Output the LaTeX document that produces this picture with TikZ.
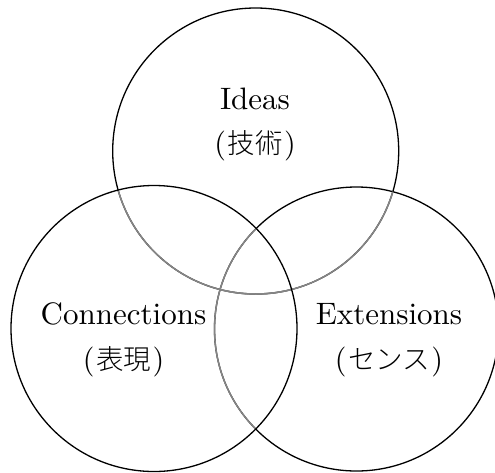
\documentclass[tikz,border=0pt]{standalone}
\usepackage{fontspec}
\newfontfamily\jpfont{Noto Sans CJK JP}[UprightFont={* Light}]
\newfontfamily\lmten{lmroman10-regular}[Extension=.otf]
\begin{document}
\begin{tikzpicture}[x=1pt,y=-1pt,
  ring/.style={line width=1.3pt,draw=black},
  overlap/.style={line width=1.5pt,draw=black!48},
  enlabel/.style={anchor=base,inner sep=0pt,font=\lmten\fontsize{31}{36}\selectfont},
  jplabel/.style={anchor=center,inner sep=0pt,font=\lmten\fontsize{30}{34}\selectfont}]
\useasboundingbox (0,0) rectangle (495,472);
\def\rad{143}
% circle centres
\coordinate (ctop) at (255.7,151);
\coordinate (cleft) at (154,328.5);
\coordinate (cright) at (356.5,329);
% top and right circles in black
\draw[ring] (ctop) circle (\rad);
\draw[ring] (cright) circle (142);
% the parts lying inside the lower circles are drawn grey
\begin{scope}
  \clip (cleft) circle (\rad);
  \draw[overlap] (ctop) circle (\rad);
  \draw[overlap] (cright) circle (142);
\end{scope}
\begin{scope}
  \clip (cright) circle (142);
  \draw[overlap] (ctop) circle (\rad);
\end{scope}
% left circle stays black all round
\draw[ring] (cleft) circle (\rad);
% labels
\newcommand\jp[1]{{\kern1.5pt\jpfont\fontsize{27.5}{30}\selectfont #1\kern1.5pt}}
\node[enlabel] (ideas) at (255,109) {Ideas};
\node[jplabel] (gijutsu) at (255,146) {(\jp{技術})};
\node[enlabel] (conn) at (123.5,324) {Connections};
\node[jplabel] (hyogen) at (123.5,362) {(\jp{表現})};
\node[enlabel] (ext) at (389,324) {Extensions};
\node[jplabel] (sense) at (389,362) {(\jp{センス})};
\end{tikzpicture}
\end{document}
